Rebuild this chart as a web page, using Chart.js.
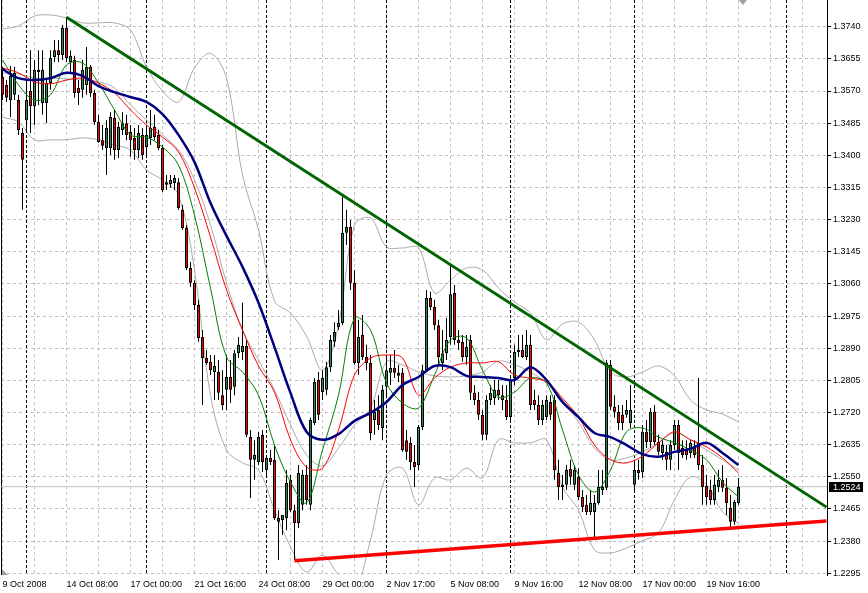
<!DOCTYPE html>
<html>
<head>
<meta charset="utf-8">
<script src="https://cdn.jsdelivr.net/npm/chart.js@4.4.1/dist/chart.umd.min.js"></script>
<style>
  html, body { margin: 0; padding: 0; background: #fff; }
  #wrap { width: 868px; height: 593px; }
</style>
</head>
<body>
<div id="wrap"><canvas id="chart"></canvas></div>
<script>
// EURUSD H4 - axis labels
const timeLabels = ['9 Oct 2008', '14 Oct 08:00', '17 Oct 00:00', '21 Oct 16:00', '24 Oct 08:00', '29 Oct 00:00',
    '2 Nov 17:00', '5 Nov 08:00', '9 Nov 16:00', '12 Nov 08:00', '17 Nov 00:00', '19 Nov 16:00'];
const priceTicks = [1.2295, 1.2380, 1.2465, 1.2550, 1.2635, 1.2720, 1.2805, 1.2890, 1.2975, 1.3060,
    1.3145, 1.3230, 1.3315, 1.3400, 1.3485, 1.3570, 1.3655, 1.3740];
const separatorBars = [6, 36, 66, 96, 127, 158, 196];
const lastPrice = 1.2524;

// candles, one per 4h bar
const openP = [1.3607,1.3586,1.3546,1.3560,1.3546,1.3459,1.3493,1.3570,1.3530,1.3626,
    1.3538,1.3538,1.3591,1.3660,1.3678,1.3665,1.3737,1.3647,1.3652,1.3578,
    1.3573,1.3586,1.3634,1.3565,1.3488,1.3440,1.3419,1.3419,1.3499,1.3414,
    1.3467,1.3485,1.3462,1.3446,1.3414,1.3454,1.3422,1.3446,1.3475,1.3454,
    1.3419,1.3329,1.3324,1.3327,1.3329,1.3256,1.3208,1.3102,1.3063,1.3004,
    1.2920,1.2864,1.2854,1.2827,1.2827,1.2766,1.2780,1.2814,1.2788,1.2877,
    1.2880,1.2896,1.2655,1.2595,1.2589,1.2661,1.2568,1.2600,1.2595,1.2441,
    1.2436,1.2441,1.2542,1.2462,1.2428,1.2476,1.2555,1.2476,1.2692,1.2806,
    1.2774,1.2780,1.2840,1.2907,1.2946,1.2957,1.3195,1.3211,1.3063,1.2851,
    1.2925,1.2867,1.2851,1.2700,1.2727,1.2679,1.2788,1.2825,1.2838,1.2825,
    1.2825,1.2647,1.2640,1.2589,1.2581,1.2682,1.2832,1.3023,1.2999,1.2951,
    1.2851,1.2877,1.2920,1.3036,1.2912,1.2907,1.2867,1.2912,1.2772,1.2753,
    1.2714,1.2661,1.2753,1.2758,1.2780,1.2766,1.2753,1.2708,1.2811,1.2880,
    1.2885,1.2867,1.2899,1.2753,1.2740,1.2700,1.2708,1.2748,1.2753,1.2560,
    1.2523,1.2529,1.2571,1.2529,1.2550,1.2497,1.2476,1.2457,1.2457,1.2481,
    1.2515,1.2521,1.2846,1.2735,1.2722,1.2714,1.2714,1.2692,1.2529,1.2568,
    1.2563,1.2669,1.2642,1.2722,1.2642,1.2613,1.2616,1.2595,1.2634,1.2687,
    1.2626,1.2621,1.2613,1.2626,1.2640,1.2581,1.2526,1.2515,1.2489,1.2523,
    1.2542,1.2521,1.2468,1.2431,1.2481];
const highP = [1.3634,1.3599,1.3636,1.3634,1.3560,1.3472,1.3594,1.3678,1.3652,1.3678,
    1.3678,1.3599,1.3678,1.3705,1.3705,1.3745,1.3766,1.3678,1.3663,1.3599,
    1.3652,1.3686,1.3639,1.3573,1.3507,1.3480,1.3493,1.3514,1.3520,1.3488,
    1.3514,1.3507,1.3480,1.3472,1.3480,1.3472,1.3480,1.3520,1.3507,1.3467,
    1.3427,1.3348,1.3348,1.3348,1.3340,1.3269,1.3216,1.3118,1.3070,1.3018,
    1.2938,1.2885,1.2872,1.2872,1.2859,1.2832,1.2872,1.2859,1.2885,1.2920,
    1.3010,1.2912,1.2674,1.2647,1.2669,1.2674,1.2608,1.2621,1.2634,1.2462,
    1.2449,1.2568,1.2555,1.2476,1.2581,1.2568,1.2581,1.2706,1.2811,1.2827,
    1.2832,1.2854,1.2925,1.2959,1.2991,1.3295,1.3256,1.3229,1.3097,1.2965,
    1.2978,1.2899,1.2872,1.2753,1.2766,1.2793,1.2872,1.2872,1.2885,1.2846,
    1.2838,1.2674,1.2655,1.2634,1.2687,1.2846,1.3044,1.3039,1.3018,1.2965,
    1.2938,1.2970,1.3110,1.3057,1.2938,1.2925,1.2925,1.2925,1.2793,1.2774,
    1.2727,1.2766,1.2793,1.2806,1.2806,1.2793,1.2793,1.2819,1.2899,1.2925,
    1.2925,1.2938,1.2925,1.2780,1.2766,1.2753,1.2766,1.2766,1.2766,1.2595,
    1.2555,1.2581,1.2595,1.2581,1.2573,1.2515,1.2502,1.2515,1.2502,1.2568,
    1.2568,1.2859,1.2859,1.2766,1.2740,1.2740,1.2753,1.2793,1.2595,1.2595,
    1.2687,1.2700,1.2732,1.2740,1.2661,1.2647,1.2634,1.2647,1.2700,1.2700,
    1.2647,1.2647,1.2647,1.2647,1.2811,1.2608,1.2555,1.2542,1.2555,1.2568,
    1.2581,1.2547,1.2502,1.2489,1.2547];
const lowP = [1.3546,1.3541,1.3501,1.3546,1.3454,1.3256,1.3459,1.3459,1.3480,1.3533,
    1.3507,1.3485,1.3573,1.3647,1.3647,1.3652,1.3647,1.3620,1.3552,1.3533,
    1.3552,1.3560,1.3554,1.3480,1.3433,1.3414,1.3348,1.3401,1.3388,1.3393,
    1.3454,1.3440,1.3396,1.3388,1.3393,1.3388,1.3401,1.3427,1.3440,1.3414,
    1.3303,1.3308,1.3314,1.3308,1.3256,1.3203,1.3097,1.3052,1.2991,1.2907,
    1.2740,1.2846,1.2819,1.2753,1.2753,1.2727,1.2727,1.2745,1.2766,1.2864,
    1.2859,1.2655,1.2494,1.2542,1.2581,1.2563,1.2547,1.2581,1.2436,1.2330,
    1.2396,1.2409,1.2457,1.2330,1.2415,1.2462,1.2476,1.2462,1.2687,1.2700,
    1.2753,1.2766,1.2827,1.2893,1.2938,1.2951,1.3163,1.3044,1.2846,1.2819,
    1.2859,1.2832,1.2647,1.2661,1.2674,1.2647,1.2766,1.2793,1.2811,1.2801,
    1.2616,1.2595,1.2568,1.2523,1.2568,1.2674,1.2827,1.2991,1.2938,1.2846,
    1.2832,1.2859,1.2899,1.2899,1.2885,1.2854,1.2846,1.2753,1.2740,1.2700,
    1.2647,1.2647,1.2740,1.2740,1.2753,1.2727,1.2700,1.2700,1.2793,1.2867,
    1.2864,1.2859,1.2727,1.2727,1.2687,1.2687,1.2700,1.2700,1.2542,1.2489,
    1.2489,1.2515,1.2529,1.2515,1.2489,1.2457,1.2449,1.2449,1.2391,1.2476,
    1.2502,1.2515,1.2727,1.2706,1.2674,1.2674,1.2706,1.2679,1.2507,1.2542,
    1.2547,1.2626,1.2626,1.2634,1.2608,1.2595,1.2568,1.2568,1.2621,1.2568,
    1.2600,1.2595,1.2600,1.2600,1.2568,1.2476,1.2476,1.2476,1.2476,1.2510,
    1.2510,1.2449,1.2417,1.2423,1.2476];
const closeP = [1.3560,1.3552,1.3610,1.3618,1.3467,1.3388,1.3546,1.3530,1.3626,1.3620,
    1.3626,1.3591,1.3657,1.3678,1.3665,1.3737,1.3657,1.3663,1.3565,1.3565,
    1.3626,1.3634,1.3565,1.3488,1.3435,1.3425,1.3472,1.3501,1.3414,1.3475,
    1.3485,1.3454,1.3440,1.3414,1.3459,1.3401,1.3454,1.3472,1.3448,1.3419,
    1.3308,1.3322,1.3335,1.3340,1.3261,1.3208,1.3102,1.3063,1.3004,1.2917,
    1.2864,1.2851,1.2832,1.2843,1.2772,1.2740,1.2814,1.2780,1.2877,1.2899,
    1.2896,1.2661,1.2595,1.2608,1.2655,1.2589,1.2600,1.2589,1.2441,1.2431,
    1.2449,1.2534,1.2462,1.2428,1.2560,1.2555,1.2489,1.2700,1.2801,1.2714,
    1.2811,1.2840,1.2912,1.2933,1.2957,1.3195,1.3211,1.3063,1.2851,1.2920,
    1.2867,1.2851,1.2666,1.2722,1.2687,1.2780,1.2832,1.2838,1.2825,1.2817,
    1.2621,1.2616,1.2589,1.2576,1.2682,1.2832,1.3023,1.2999,1.2951,1.2867,
    1.2877,1.2912,1.3033,1.2912,1.2904,1.2867,1.2893,1.2772,1.2753,1.2714,
    1.2661,1.2753,1.2772,1.2780,1.2766,1.2753,1.2708,1.2806,1.2880,1.2885,
    1.2867,1.2899,1.2740,1.2740,1.2700,1.2740,1.2753,1.2714,1.2568,1.2523,
    1.2529,1.2568,1.2550,1.2568,1.2497,1.2470,1.2457,1.2481,1.2481,1.2523,
    1.2523,1.2851,1.2735,1.2722,1.2692,1.2692,1.2727,1.2727,1.2568,1.2560,
    1.2669,1.2642,1.2722,1.2642,1.2616,1.2634,1.2595,1.2634,1.2687,1.2613,
    1.2608,1.2608,1.2640,1.2608,1.2581,1.2523,1.2497,1.2489,1.2529,1.2542,
    1.2521,1.2481,1.2431,1.2484,1.2524];

// indicator readings, every 4th bar
const sampleBars = [0,4,8,12,16,20,24,28,32,36,40,44,48,52,56,60,64,68,72,76,80,84,88,92,
    96,100,104,108,112,116,120,124,128,132,136,140,144,148,152,156,160,164,168,172,176,180,184];
const maFast = [1.3652,1.3586,1.3546,1.3560,1.3639,1.3644,1.3591,1.3520,1.3454,1.3448,1.3422,1.3374,
    1.3242,1.3049,1.2867,1.2827,1.2766,1.2634,1.2536,1.2481,1.2621,1.2766,1.2970,1.2938,
    1.2798,1.2745,1.2732,1.2819,1.2912,1.2917,1.2832,1.2761,1.2774,1.2811,1.2798,1.2674,
    1.2555,1.2510,1.2568,1.2669,1.2679,1.2655,1.2640,1.2621,1.2595,1.2536,1.2497];
const maMid = [1.3631,1.3618,1.3594,1.3589,1.3599,1.3604,1.3591,1.3565,1.3520,1.3480,1.3448,1.3409,
    1.3314,1.3184,1.3044,1.2938,1.2843,1.2774,1.2648,1.2576,1.2573,1.2674,1.2819,1.2864,
    1.2872,1.2864,1.2766,1.2811,1.2840,1.2851,1.2851,1.2854,1.2819,1.2811,1.2801,1.2758,
    1.2708,1.2634,1.2595,1.2587,1.2605,1.2640,1.2669,1.2648,1.2629,1.2600,1.2560];
const maSlow = [1.3628,1.3604,1.3599,1.3604,1.3618,1.3610,1.3583,1.3567,1.3554,1.3541,1.3509,1.3454,
    1.3382,1.3274,1.3187,1.3105,1.3010,1.2893,1.2772,1.2669,1.2648,1.2663,1.2698,1.2719,
    1.2748,1.2793,1.2814,1.2843,1.2840,1.2817,1.2814,1.2811,1.2806,1.2840,1.2806,1.2748,
    1.2708,1.2666,1.2655,1.2634,1.2610,1.2603,1.2616,1.2624,1.2640,1.2613,1.2581];
const bandUpper = [1.3734,1.3742,1.3768,1.3771,1.3763,1.3750,1.3750,1.3750,1.3731,1.3634,1.3570,1.3541,
    1.3631,1.3670,1.3604,1.3348,1.3203,1.3015,1.2983,1.2922,1.2832,1.2951,1.3216,1.3234,
    1.3158,1.3155,1.3155,1.3036,1.3070,1.3102,1.3097,1.3049,1.3012,1.2983,1.2912,1.2954,
    1.2959,1.2912,1.2827,1.2814,1.2827,1.2843,1.2817,1.2753,1.2727,1.2716,1.2695];
const bandMiddle = [1.3618,1.3615,1.3604,1.3604,1.3602,1.3599,1.3594,1.3578,1.3533,1.3493,1.3454,1.3414,
    1.3335,1.3216,1.3063,1.2938,1.2859,1.2780,1.2687,1.2608,1.2579,1.2626,1.2687,1.2732,
    1.2854,1.2846,1.2827,1.2817,1.2814,1.2817,1.2827,1.2856,1.2846,1.2827,1.2798,1.2753,
    1.2695,1.2626,1.2595,1.2600,1.2616,1.2640,1.2666,1.2648,1.2621,1.2595,1.2568];
const bandLower = [1.3501,1.3488,1.3441,1.3441,1.3441,1.3446,1.3441,1.3427,1.3414,1.3361,1.3335,1.3295,
    1.3097,1.2766,1.2621,1.2587,1.2568,1.2462,1.2365,1.2298,1.2343,1.2291,1.2251,1.2383,
    1.2555,1.2573,1.2476,1.2547,1.2542,1.2573,1.2547,1.2648,1.2640,1.2640,1.2648,1.2523,
    1.2462,1.2357,1.2349,1.2362,1.2381,1.2402,1.2489,1.2550,1.2529,1.2457,1.2428];

// hand-drawn trend lines [bar, price]
const resistanceLine = [[16, 1.3765], [206, 1.2470]];
const supportLine = [[73, 1.2328], [206, 1.2433]];

const xMin = -0.375;
const xMax = 206.125;
const bullColor = '#2e8b57';
const bearColor = '#ff0000';
const gridColor = '#c0c0c0';

function sampled(values) {
    return values.map((v, k) => ({ x: sampleBars[k], y: v }));
}

const chartDecor = {
    id: 'chartDecor',
    beforeDatasetsDraw(chart) {
        const { ctx, chartArea: a, scales: { x } } = chart;
        ctx.save();
        ctx.strokeStyle = '#000';
        ctx.lineWidth = 1;
        ctx.setLineDash([3, 2]);
        separatorBars.forEach(b => {
            const px = Math.round(x.getPixelForValue(b) - 0.5) + 0.5;
            ctx.beginPath();
            ctx.moveTo(px, a.top);
            ctx.lineTo(px, a.bottom);
            ctx.stroke();
        });
        ctx.setLineDash([]);
        ctx.beginPath();
        ctx.moveTo(a.left + 0.5, a.top);
        ctx.lineTo(a.left + 0.5, a.bottom);
        ctx.stroke();
        ctx.restore();
    },
    afterDraw(chart) {
        const { ctx, chartArea: a, scales: { y } } = chart;
        const py = Math.round(y.getPixelForValue(lastPrice));
        ctx.save();
        ctx.fillStyle = '#000';
        ctx.fillRect(a.right + 2, py - 5, 34, 10);
        ctx.fillStyle = '#fff';
        ctx.font = '9px "Liberation Sans"';
        ctx.textBaseline = 'middle';
        ctx.fillText(lastPrice.toFixed(4), a.right + 6, py + 0.5);
        // chart shift / corner markers
        ctx.fillStyle = '#a0a0a0';
        ctx.beginPath();
        ctx.moveTo(739, a.top);
        ctx.lineTo(747, a.top);
        ctx.lineTo(743, a.top + 5);
        ctx.closePath();
        ctx.fill();
        ctx.beginPath();
        ctx.moveTo(a.left + 1, a.bottom - 6);
        ctx.lineTo(a.left + 1, a.bottom);
        ctx.lineTo(a.left + 7, a.bottom);
        ctx.closePath();
        ctx.fill();
        ctx.restore();
    }
};

Chart.defaults.font.family = '"Liberation Sans", Arial, sans-serif';

const ctx = document.getElementById('chart').getContext('2d');
new Chart(ctx, {
    type: 'bar',
    data: {
        datasets: [{
            type: 'line',
            label: 'Bid',
            data: [{ x: xMin, y: lastPrice }, { x: xMax, y: lastPrice }],
            borderColor: gridColor,
            borderWidth: 1,
            pointRadius: 0,
            order: 20
        }, {
            type: 'line',
            label: 'BB upper',
            data: sampled(bandUpper),
            borderColor: '#aaaaaa',
            borderWidth: 1,
            pointRadius: 0,
            tension: 0.35,
            order: 15
        }, {
            type: 'line',
            label: 'BB middle',
            data: sampled(bandMiddle),
            borderColor: '#aaaaaa',
            borderWidth: 1,
            pointRadius: 0,
            tension: 0.35,
            order: 14
        }, {
            type: 'line',
            label: 'BB lower',
            data: sampled(bandLower),
            borderColor: '#aaaaaa',
            borderWidth: 1,
            pointRadius: 0,
            tension: 0.35,
            order: 13
        }, {
            label: 'Wick',
            data: openP.map((o, i) => ({ x: i, y: [lowP[i], highP[i]] })),
            backgroundColor: '#000',
            borderWidth: 0,
            barThickness: 1,
            grouped: false,
            inflateAmount: 0,
            order: 12
        }, {
            label: 'Body',
            data: openP.map((o, i) => ({ x: i, y: [o, closeP[i]] })),
            backgroundColor: openP.map((o, i) => closeP[i] >= o ? bullColor : bearColor),
            borderColor: '#000',
            borderWidth: 1,
            borderSkipped: false,
            barThickness: 3,
            grouped: false,
            inflateAmount: 0,
            order: 11
        }, {
            type: 'line',
            label: 'MA fast',
            data: sampled(maFast),
            borderColor: '#008000',
            borderWidth: 1,
            pointRadius: 0,
            tension: 0.35,
            order: 5
        }, {
            type: 'line',
            label: 'MA mid',
            data: sampled(maMid),
            borderColor: '#ff0000',
            borderWidth: 1,
            pointRadius: 0,
            tension: 0.35,
            order: 4
        }, {
            type: 'line',
            label: 'MA slow',
            data: sampled(maSlow),
            borderColor: '#000080',
            borderWidth: 2.5,
            pointRadius: 0,
            tension: 0.35,
            order: 3
        }, {
            type: 'line',
            label: 'Resistance',
            data: resistanceLine.map(p => ({ x: p[0], y: p[1] })),
            borderColor: '#006400',
            borderWidth: 3,
            pointRadius: 0,
            order: 1
        }, {
            type: 'line',
            label: 'Support',
            data: supportLine.map(p => ({ x: p[0], y: p[1] })),
            borderColor: '#ff0000',
            borderWidth: 3.5,
            pointRadius: 0,
            order: 0
        }]
    },
    options: {
        responsive: true,
        maintainAspectRatio: false,
        devicePixelRatio: 1,
        animation: false,
        events: [],
        layout: { padding: { left: 1, top: 0, right: 0, bottom: 0 } },
        plugins: {
            legend: { display: false },
            tooltip: { enabled: false }
        },
        scales: {
            x: {
                type: 'linear',
                offset: false,
                min: xMin,
                max: xMax,
                afterBuildTicks: scale => {
                    const t = [];
                    for (let b = 0; b <= 200; b += 8) t.push({ value: b });
                    scale.ticks = t;
                },
                afterFit: scale => {
                    scale.height = 18;
                    scale.paddingLeft = 0;
                    scale.paddingRight = 0;
                },
                ticks: {
                    autoSkip: false,
                    maxRotation: 0,
                    align: 'start',
                    padding: 1,
                    color: '#000',
                    font: { size: 9 },
                    callback: v => (v % 16 === 0 && timeLabels[v / 16]) ? timeLabels[v / 16] : ''
                },
                grid: {
                    offset: false,
                    color: gridColor,
                    tickLength: 3,
                    tickColor: 'rgba(0,0,0,0)',
                    tickBorderDash: []
                },
                border: { display: false, dash: [3, 3] }
            },
            y: {
                type: 'linear',
                position: 'right',
                min: 1.22905,
                max: 1.381058,
                afterBuildTicks: scale => {
                    scale.ticks = priceTicks.map(v => ({ value: v }));
                },
                afterFit: scale => {
                    scale.width = 41;
                    scale.paddingTop = 0;
                    scale.paddingBottom = 0;
                },
                ticks: {
                    padding: 2,
                    color: '#000',
                    font: { size: 9 },
                    callback: v => Number(v).toFixed(4)
                },
                grid: {
                    color: gridColor,
                    tickLength: 4,
                    tickColor: '#000',
                    tickBorderDash: []
                },
                border: { display: true, color: '#000', dash: [3, 3] }
            }
        }
    },
    plugins: [chartDecor]
});
</script>
</body>
</html>
